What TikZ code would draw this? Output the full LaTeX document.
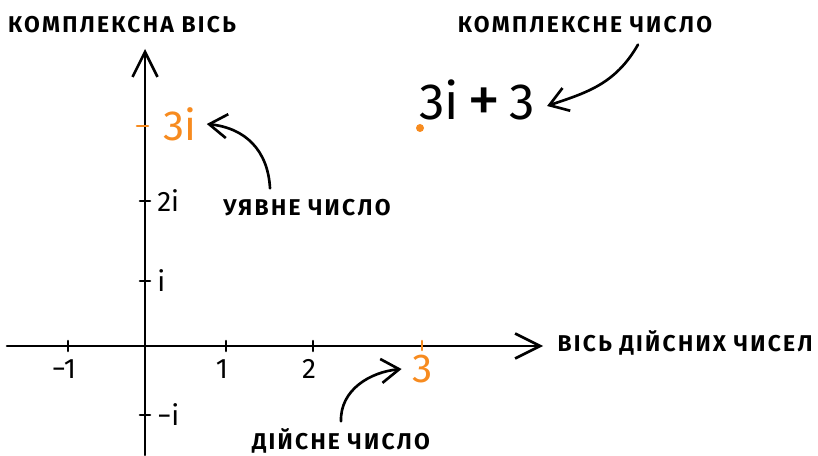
\documentclass[tikz,border=0pt]{standalone}
\usepackage{fontspec}
\setmainfont{Fira Sans}
\newfontfamily\capsfont{Fira Sans}[LetterSpace=10.0]
\usetikzlibrary{arrows.meta}
\definecolor{cOrange}{RGB}{247,139,31}

\begin{document}
\begin{tikzpicture}[x=0.02cm, y=-0.02cm, line width=1.5pt, line cap=round,
  capslbl/.style={font=\capsfont\bfseries\fontsize{13}{15}\selectfont, inner sep=0pt},
  ticklbl/.style={font=\fontsize{16}{18}\selectfont, inner sep=0pt},
  axisarrow/.style={-{Straight Barb[length=5mm,width=5mm,line width=1.5pt]}},
  notearrow/.style={-{Straight Barb[length=3.6mm,width=4.8mm,line width=1.5pt]}}]
\useasboundingbox (0,0) rectangle (818,456);
%% ---- Axes ----
\coordinate (xl) at (7,346);
\coordinate (xr) at (543,346);
\coordinate (yb) at (145,455);
\coordinate (yt) at (145,49);
\draw[axisarrow] (xl) -- (xr);
\draw[axisarrow] (yb) -- (yt);
\node[capslbl] (realaxis) at (685,343) {ВІСЬ ДІЙСНИХ ЧИСЕЛ};
\node[capslbl] (imagaxis) at (122,25) {КОМПЛЕКСНА ВІСЬ};
%% ---- Ticks ----
\foreach \x/\lbl in {68/−1,226/1,313/2}
{
  \draw (\x,341) -- (\x,351);
  \node[ticklbl] (xt\x) at (\x-4,369) {\lbl};
}
\foreach \y/\lbl in {281/i,201/2i,415/−i}
{
  \draw (140,\y) -- (150,\y);
  \node[ticklbl, anchor=west] (yt\y) at (156,\y) {\lbl};
}
%% ---- Highlighted values ----
\draw[cOrange] (422,341) -- (422,350);
\node[ticklbl, text=cOrange, font=\fontsize{23}{25}\selectfont] (three) at (423,369) {3};
\draw[cOrange] (137,126) -- (148,126);
\node[ticklbl, text=cOrange, font=\fontsize{24}{26}\selectfont] (threei) at (180,124) {3i};
\fill[cOrange] (420,128) circle (4);
\node[inner sep=0pt, font=\fontsize{29}{32}\selectfont] (cnum) at (477,101)
  {3i\,{\fontsize{38}{40}\selectfont\raisebox{-1.5pt}{+}}\,3};
%% ---- Notes ----
\node[capslbl] (imag) at (307,208) {УЯВНЕ ЧИСЛО};
\node[capslbl] (complex) at (585,25) {КОМПЛЕКСНЕ ЧИСЛО};
\node[capslbl] (real) at (341,441) {ДІЙСНЕ ЧИСЛО};
\draw[notearrow] ([xshift=-0.74cm,yshift=0.2cm]imag.north)
  .. controls (268,150) and (245,128) .. ([xshift=0.18cm]threei.east);
\draw[notearrow] ([xshift=1.06cm,yshift=-0.2cm]complex.south)
  .. controls (615,85) and (585,93) .. ([xshift=0.22cm,yshift=-0.1cm]cnum.east);
\draw[notearrow] ([yshift=0.12cm]real.north)
  .. controls (340,390) and (370,372) .. ([xshift=-0.2cm]three.west);
\end{tikzpicture}
\end{document}
